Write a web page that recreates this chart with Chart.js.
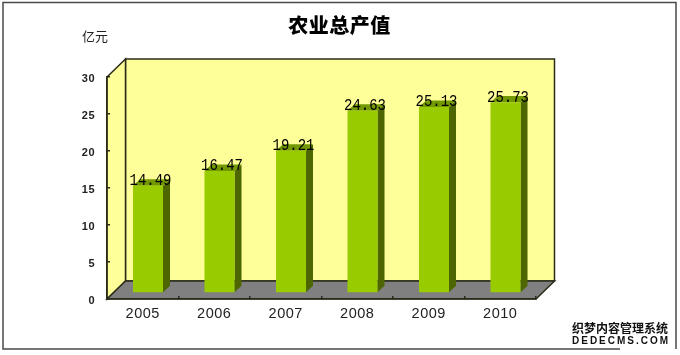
<!DOCTYPE html>
<html><head><meta charset="utf-8">
<style>html,body{margin:0;padding:0;background:#fff}canvas{display:block}</style>
<script src="https://cdn.jsdelivr.net/npm/chart.js@4"></script>
</head><body>
<div style="width:680px;height:355px"><canvas id="c" width="680" height="355"></canvas></div>
<script>
const categories = ['2005','2006','2007','2008','2009','2010'];
const values = [14.49,16.47,19.21,24.63,25.13,25.73];
const yTicks = [0,5,10,15,20,25,30];
const chartTitle = '农业总产值';
const unitLabel = '亿元';
const wmLine1 = '织梦内容管理系统';
const wmLine2 = 'DEDECMS.COM';

const DEPTH_X = 18.5, DEPTH_Y = 18;      // wall depth
const BAR_SHIFT_X = 5.25, BAR_SHIFT_Y = 6; // bars stand mid-floor
const BAR_DX = 7, BAR_DY = 6.5;          // bar depth
const EDGE = '#2b2b1a';

function poly(ctx, pts, fill, stroke, lw){
  ctx.beginPath();
  pts.forEach((p,i)=> i?ctx.lineTo(p[0],p[1]):ctx.moveTo(p[0],p[1]));
  ctx.closePath();
  if(fill){ctx.fillStyle=fill;ctx.fill();}
  if(stroke){ctx.strokeStyle=stroke;ctx.lineWidth=lw||1;ctx.stroke();}
}

const scene = {
  id:'scene',
  afterLayout(chart){
    chart.titleBlock.left = 0; chart.titleBlock.right = chart.width - 1;
  },
  beforeDraw(chart){
    const {ctx,chartArea:a} = chart;
    const L=a.left,R=a.right,T=a.top,B=a.bottom,dx=DEPTH_X,dy=DEPTH_Y;
    ctx.save();
    ctx.fillStyle='#fff';ctx.fillRect(0,0,chart.width,chart.height);
    // outer frame
    ctx.strokeStyle='#4a4a4a';ctx.lineWidth=1.5;
    ctx.beginPath();
    ctx.moveTo(620,349);ctx.lineTo(3,349);ctx.lineTo(3,2.5);ctx.lineTo(676,2.5);ctx.lineTo(676,349);
    ctx.stroke();
    // back wall, side wall, floor
    poly(ctx,[[L+dx,T-dy],[R+dx,T-dy],[R+dx,B-dy],[L+dx,B-dy]],'#FFFF99',EDGE,1.5);
    poly(ctx,[[L,T],[L+dx,T-dy],[L+dx,B-dy],[L,B]],'#FFFF99',EDGE,1.5);
    poly(ctx,[[L,B],[L+dx,B-dy],[R+dx,B-dy],[R,B]],'#808080',EDGE,1.5);
    // unit label
    ctx.fillStyle='#222';ctx.font='13px "Noto Sans CJK SC"';
    ctx.textAlign='left';ctx.textBaseline='middle';
    ctx.fillText(unitLabel,82,36);
    // y tick labels
    const ys = chart.scales.y;
    ctx.fillStyle='#222';ctx.font='bold 11px "Liberation Sans"';ctx.letterSpacing='0.8px';
    ctx.textAlign='right';ctx.textBaseline='middle';
    yTicks.forEach(v=>ctx.fillText(String(v),L-11.5,ys.getPixelForValue(v)+1.5));
    ctx.restore();
    // the chart's own axis labels and title are drawn slightly spaced, like the reference
    ctx.letterSpacing='0.5px';
  },
  beforeDatasetsDraw(chart){
    const {ctx} = chart;
    ctx.save();
    ctx.translate(BAR_SHIFT_X,-BAR_SHIFT_Y);
    chart.getDatasetMeta(0).data.forEach(b=>{
      const l=b.x-b.width/2,r=b.x+b.width/2;
      poly(ctx,[[r,b.y],[r+BAR_DX,b.y-BAR_DY],[r+BAR_DX,b.base-BAR_DY],[r,b.base]],'#4D6600');
      poly(ctx,[[l,b.y],[l+BAR_DX,b.y-BAR_DY],[r+BAR_DX,b.y-BAR_DY],[r,b.y]],'#739900');
    });
  },
  afterDatasetsDraw(chart){
    const {ctx} = chart;
    ctx.letterSpacing='0px';
    chart.getDatasetMeta(0).data.forEach((b,i)=>{
      ctx.save();
      ctx.translate(b.x+2.5,b.y-0.8);
      ctx.scale(1,1.2);
      ctx.fillStyle='#000';ctx.font='14px "Liberation Mono"';
      ctx.textAlign='center';ctx.textBaseline='alphabetic';
      ctx.fillText(values[i].toFixed(2),0,0);
      ctx.restore();
    });
    ctx.restore();
    // watermark
    ctx.save();
    ctx.fillStyle='#111';ctx.strokeStyle='#fff';ctx.lineJoin='round';ctx.lineWidth=3;
    ctx.textAlign='left';ctx.textBaseline='middle';
    ctx.letterSpacing='0px';
    ctx.font='bold 12px "Noto Sans CJK SC"';
    ctx.strokeText(wmLine1,572,328);ctx.fillText(wmLine1,572,328);
    ctx.font='bold 10px "Liberation Sans"';ctx.letterSpacing='2px';
    ctx.strokeText(wmLine2,572,341);ctx.fillText(wmLine2,572,341);
    ctx.restore();
    ctx.letterSpacing='0.5px';
  }
};

new Chart(document.getElementById('c'),{
  type:'bar',
  data:{labels:categories,datasets:[{data:values,backgroundColor:'#99CC00',borderWidth:0,
    barPercentage:0.42,categoryPercentage:1}]},
  plugins:[scene],
  options:{
    responsive:false,animation:false,
    layout:{padding:{left:0,right:144,top:13,bottom:0}},
    plugins:{
      legend:{display:false},tooltip:{enabled:false},
      title:{display:true,text:chartTitle,color:'#000',
        font:{family:'"Noto Sans CJK SC"',size:20,weight:'900',lineHeight:1.2},
        padding:{top:0,bottom:40}}
    },
    scales:{
      x:{
        afterFit(s){s.height=56;},
        grid:{offset:true,drawOnChartArea:false,tickLength:-3,color:EDGE,lineWidth:1.5},
        border:{color:EDGE,width:1.5},
        ticks:{color:'#222',font:{family:'"Liberation Sans"',size:14.5},padding:9,maxRotation:0}
      },
      y:{
        min:0,max:30,
        afterFit(s){s.width=107;},
        afterBuildTicks(s){s.ticks=yTicks.map(v=>({value:v}));},
        grid:{drawOnChartArea:false,tickLength:-3,color:EDGE,lineWidth:1.5},
        border:{color:EDGE,width:1.5},
        ticks:{display:false}
      }
    }
  }
});
</script>
</body></html>
